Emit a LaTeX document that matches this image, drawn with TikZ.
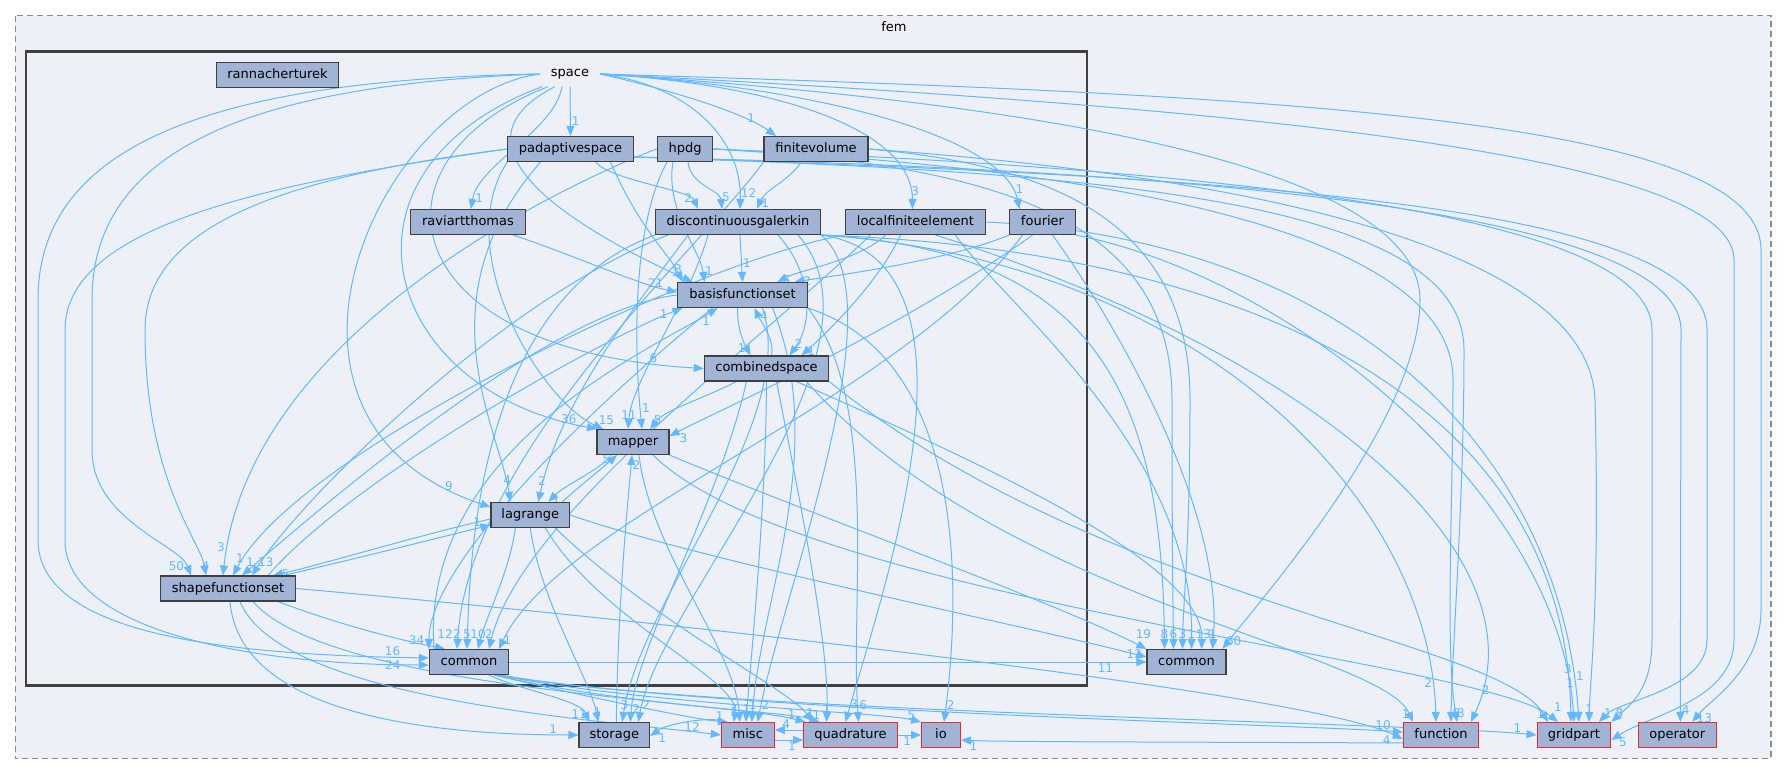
\documentclass[tikz,border=0pt]{standalone}
\usepackage{fontspec}
\setmainfont{DejaVu Sans}
\usetikzlibrary{arrows.meta}
\definecolor{edgec}{HTML}{63B8FF}
\definecolor{nodef}{HTML}{A2B4D6}
\definecolor{clbg}{HTML}{EDF0F7}
\definecolor{nodeb}{HTML}{404040}
\definecolor{extb}{HTML}{F0282D}
\definecolor{dashc}{HTML}{8C8C8C}
\pgfdeclarelayer{bg}
\pgfdeclarelayer{edges}
\pgfsetlayers{bg,edges,main}
\tikzset{
  nd/.style={draw=nodeb, fill=nodef, line width=1.1pt, minimum height=25pt, inner sep=0pt,
    font=\fontsize{13}{15}\selectfont, text height=9.6pt, text depth=2.6pt, text=black},
  ext/.style={nd, draw=extb},
  dep/.style={draw=edgec, line width=1pt, -{Triangle[length=10pt,width=8pt]}},
  lbl/.style={text=edgec, font=\fontsize{12}{14}\selectfont, inner sep=1pt},
  toplbl/.style={lbl, pos=1, above=9pt}
}
\begin{document}
\begin{tikzpicture}[x=1pt,y=-1pt]
\useasboundingbox (0,0) rectangle (1789,775);
\begin{pgfonlayer}{bg}
\fill[white] (0,0) rectangle (1789,775);
\draw[fill=clbg, draw=dashc, line width=1.3pt, dash pattern=on 6pt off 4pt] (15.3,15.7) rectangle (1771,758.7);
\draw[fill=clbg, draw=nodeb, line width=2.4pt] (26,51.7) rectangle (1086.7,685.3);
\end{pgfonlayer}
\node[font=\fontsize{13}{15}\selectfont] (femlbl) at (894,27) {fem};
\node[nd,minimum width=121.7] (rt) at (277.5,75) {rannacherturek};
\node[font=\fontsize{13}{15}\selectfont, minimum width=60pt, minimum height=25pt, inner sep=0pt] (sp) at (570,74) {space};
\node[nd,minimum width=125.5] (pa) at (570.5,149) {padaptivespace};
\node[nd,minimum width=55.5] (hp) at (685,149) {hpdg};
\node[nd,minimum width=104] (fv) at (816,149) {finitevolume};
\node[nd,minimum width=115] (ra) at (468,222) {raviartthomas};
\node[nd,minimum width=165] (dg) at (738,222) {discontinuousgalerkin};
\node[nd,minimum width=140.5] (lf) at (915.5,222) {localfiniteelement};
\node[nd,minimum width=66] (fo) at (1042.5,222) {fourier};
\node[nd,minimum width=129.6] (bf) at (742.5,295) {basisfunctionset};
\node[nd,minimum width=124.4] (cs) at (766.5,368.5) {combinedspace};
\node[nd,minimum width=72] (ma) at (633,442) {mapper};
\node[nd,minimum width=78.7] (la) at (530.3,515) {lagrange};
\node[nd,minimum width=134.7] (sf) at (228,588.5) {shapefunctionset};
\node[nd,minimum width=79.4] (sc) at (469,662) {common};
\node[nd,minimum width=79] (fc) at (1186.5,662) {common};
\node[nd,minimum width=70.7] (st) at (614.3,735) {storage};
\node[ext,minimum width=53] (mi) at (747.8,735) {misc};
\node[ext,minimum width=93.6] (qu) at (850.5,735) {quadrature};
\node[ext,minimum width=38.8] (io) at (941,735) {io};
\node[ext,minimum width=75.4] (fn) at (1441,735) {function};
\node[ext,minimum width=73.7] (gp) at (1574,735) {gridpart};
\node[ext,minimum width=78] (op) at (1677.3,735) {operator};

\begin{pgfonlayer}{edges}
% space
\draw[dep] (sp.south) -- (pa.north) node[lbl,pos=.7,right]{1};
\draw[dep] ([xshift=-8]sp.south) .. controls (555,130) and (478,165) .. ([xshift=3]ra.north) node[lbl,pos=.92,right]{1};
\draw[dep] (sp.east) .. controls (650,85) and (740,110) .. ([xshift=-40]fv.north) node[lbl,pos=.85,above left]{1};
\draw[dep] (sp.east) .. controls (690,85) and (742,140) .. ([xshift=2]dg.north) node[lbl,pos=.92,right]{12};
\draw[dep] (sp.east) .. controls (780,85) and (912,130) .. ([xshift=-3]lf.north) node[lbl,pos=.92,right]{3};
\draw[dep] (sp.east) .. controls (830,88) and (1005,140) .. ([xshift=-23]fo.north) node[lbl,pos=.93,above right]{1};
\draw[dep] ([xshift=-15]sp.south) .. controls (430,150) and (600,240) .. ([xshift=-50]bf.north) node[lbl,pos=.95,above]{3};
\draw[dep] ([xshift=-22]sp.south) .. controls (360,160) and (390,350) .. (cs.west) node[lbl,pos=.95,above left]{6};
\draw[dep] ([xshift=-28]sp.south) .. controls (320,170) and (380,390) .. ([xshift=-36]ma.north) node[lbl,pos=.97,above left]{36};
\draw[dep] (sp.west) .. controls (380,95) and (230,420) .. ([yshift=8]la.west) node[lbl,pos=.95,above left]{9};
\draw[dep] (sp.west) .. controls (250,85) and (92,150) .. (92,300) -- (92,450) .. controls (92,520) and (180,545) .. ([xshift=-37]sf.north) node[lbl,pos=.9,left]{50};
\draw[dep] (sp.west) .. controls (200,80) and (38,150) .. (38,300) -- (38,540) .. controls (38,640) and (250,655) .. ([yshift=4]sc.west) node[lbl,pos=.95,above left]{16};
\draw[dep] (sp.east) .. controls (1300,95) and (1761,120) .. (1761,250) -- (1761,610) .. controls (1761,670) and (1710,700) .. ([xshift=15]op.north) node[lbl,pos=.95,right]{13};
\draw[dep] (sp.east) .. controls (1300,110) and (1734,160) .. (1734,260) -- (1734,640) .. controls (1734,700) and (1650,715) .. ([yshift=-5]gp.east) node[lbl,pos=.95,below right]{5};
\draw[dep] (sp.east) .. controls (1000,100) and (1420,160) .. (1420,300) .. controls (1420,420) and (1260,600) .. ([xshift=36]fc.north) node[lbl,pos=1,above right=2pt]{60};
% padaptivespace
\draw[dep] ([xshift=25]pa.south) .. controls (610,180) and (690,190) .. ([xshift=-40]dg.north) node[lbl,pos=.9,above left]{2};
\draw[dep] ([xshift=40]pa.south) .. controls (640,230) and (670,255) .. ([xshift=-60]bf.north) node[lbl,pos=.95,above left]{1};
\draw[dep] (pa.south west) .. controls (450,250) and (540,400) .. ([xshift=-30]ma.north) node[lbl,pos=.97,above right]{15};
\draw[dep] (pa.west) .. controls (300,175) and (145,220) .. (145,330) .. controls (145,480) and (200,540) .. ([xshift=-22]sf.north) node[lbl,pos=.97,above]{4};
\draw[dep] (pa.west) .. controls (250,185) and (65,230) .. (65,330) -- (65,540) .. controls (65,630) and (250,665) .. ([yshift=-3]sc.west) node[lbl,pos=.95,left]{24};
\draw[dep] ([xshift=-30]pa.south) .. controls (420,300) and (500,430) .. ([xshift=-20]la.north) node[lbl,pos=.93,above]{4};
\draw[dep] ([yshift=-8]pa.east) .. controls (1100,168) and (1681,200) .. (1681,330) -- ([xshift=3]op.north) node[lbl,pos=.97,right]{4};
\draw[dep] ([yshift=-8]pa.east) .. controls (1100,172) and (1464,200) .. (1464,350) .. controls (1464,500) and (1452,650) .. ([xshift=10]fn.north) node[lbl,pos=.96,right]{8};
\draw[dep] ([yshift=-8]pa.east) .. controls (1200,176) and (1707,200) .. (1707,330) -- (1707,640) .. controls (1707,690) and (1620,700) .. ([xshift=25]gp.north) node[lbl,pos=.95,above right]{1};
% hpdg
\draw[dep] ([xshift=3]hp.south) .. controls (690,185) and (720,190) .. ([xshift=-16]dg.north) node[lbl,pos=.9,above right]{5};
\draw[dep] ([xshift=-12]hp.south) .. controls (665,210) and (700,250) .. ([xshift=-38]bf.north) node[lbl,pos=.95,above right]{1};
\draw[dep] ([xshift=-18]hp.south) .. controls (630,230) and (635,360) .. ([xshift=9]ma.north) node[lbl,pos=.93,above right]{1};
\draw[dep] (hp.east) .. controls (1000,165) and (1172,220) .. (1172,400) .. controls (1172,550) and (1173,600) .. ([xshift=-13]fc.north) node[toplbl]{6};
\draw[dep] (hp.east) .. controls (1200,170) and (1652,210) .. (1652,330) -- (1652,640) .. controls (1652,690) and (1630,705) .. (gp.north east) node[lbl,pos=.95,above right]{8};
\draw[dep] (hp.east) .. controls (1100,168) and (1453,230) .. (1453,380) .. controls (1453,500) and (1445,650) .. ([xshift=16]fn.north) node[lbl,pos=.96,right]{3};
\draw[dep] (hp.west) .. controls (600,170) and (250,320) .. ([xshift=-5]sf.north) node[lbl,pos=.97,above left]{3};
% finitevolume
\draw[dep] ([xshift=-15]fv.south) .. controls (790,180) and (765,190) .. ([xshift=19]dg.north) node[lbl,pos=.9,right]{1};
\draw[dep] (fv.east) .. controls (1050,165) and (1190,220) .. (1190,400) .. controls (1190,550) and (1183,600) .. ([xshift=-4]fc.north) node[toplbl]{3};
\draw[dep] (fv.east) .. controls (1300,180) and (1590,260) .. (1595,400) .. controls (1600,600) and (1590,680) .. ([xshift=15]gp.north) node[lbl,pos=.95,above]{1};
\draw[dep] (fv.south west) .. controls (700,250) and (470,450) .. ([xshift=-12]sc.north) node[toplbl]{2};
% raviartthomas
\draw[dep] ([xshift=45]ra.south) .. controls (560,250) and (640,285) .. ([yshift=3]bf.west) node[lbl,pos=.9,above left]{21};
% discontinuousgalerkin
\draw[dep] ([xshift=2]dg.south) -- (bf.north) node[lbl,pos=.6,right]{1};
\draw[dep] ([xshift=40]dg.south) .. controls (810,270) and (815,320) .. ([xshift=23]cs.north) node[lbl,pos=.95,above right]{2};
\draw[dep] ([xshift=-30]dg.south) .. controls (690,300) and (632,380) .. ([xshift=-5]ma.north) node[lbl,pos=.95,above]{11};
\draw[dep] ([xshift=-50]dg.south) .. controls (640,300) and (560,400) .. ([xshift=8]la.north) node[lbl,pos=.95,above]{2};
\draw[dep] ([xshift=-70]dg.south) .. controls (500,300) and (300,500) .. ([xshift=24]sf.north) node[lbl,pos=.97,above right]{13};
\draw[dep] (dg.south west) .. controls (480,300) and (470,550) .. ([xshift=-2]sc.north) node[toplbl]{5};
\draw[dep] ([xshift=60]dg.south) .. controls (900,350) and (660,600) .. ([xshift=24]st.north) node[lbl,pos=.97,above right]{2};
\draw[dep] (dg.south east) .. controls (900,300) and (780,600) .. ([xshift=10]mi.north) node[lbl,pos=.97,above right]{2};
\draw[dep] (dg.south east) .. controls (1000,260) and (880,600) .. ([xshift=-5]qu.north) node[lbl,pos=.97,above right]{3};
\draw[dep] (dg.south east) .. controls (1100,250) and (1162,400) .. ([xshift=-22]fc.north) node[toplbl]{8};
\draw[dep] (dg.south east) .. controls (1200,260) and (1430,500) .. ([xshift=-5]fn.north) node[lbl,pos=.95,above left]{2};
\draw[dep] (dg.south east) .. controls (1250,250) and (1565,400) .. ([xshift=-3]gp.north) node[lbl,pos=.95,above]{3};
% localfiniteelement
\draw[dep] ([xshift=-30]lf.south) .. controls (860,260) and (800,270) .. ([xshift=35]bf.north) node[lbl,pos=.95,right]{6};
\draw[dep] ([xshift=-15]lf.south) .. controls (880,280) and (830,330) .. ([xshift=35]cs.north) node[lbl,pos=.95,right]{1};
\draw[dep] (lf.south west) .. controls (700,260) and (300,450) .. ([xshift=5]sf.north) node[lbl,pos=.97,above]{1};
\draw[dep] ([xshift=40]lf.south) .. controls (1000,300) and (1195,450) .. ([xshift=5]fc.north) node[toplbl]{1};
\draw[dep] (lf.east) .. controls (1350,240) and (1560,450) .. ([xshift=5]gp.north) node[lbl,pos=.95,above right]{1};
\draw[dep] ([xshift=20]lf.south) .. controls (1300,350) and (1550,550) .. ([xshift=30]fn.north) node[lbl,pos=.95,above right]{2};
\draw[dep] ([xshift=-45]lf.south) .. controls (750,350) and (520,520) .. ([xshift=20]sc.north) node[toplbl]{2};
% fourier
\draw[dep] (fo.south west) .. controls (950,260) and (840,275) .. ([xshift=52]bf.north) node[lbl,pos=.95,right]{2};
\draw[dep] ([xshift=-10]fo.south) .. controls (900,330) and (720,410) .. ([yshift=6]ma.east) node[lbl,pos=.95,below right]{3};
\draw[dep] ([xshift=10]fo.south) .. controls (1100,300) and (1225,500) .. ([xshift=26]fc.north) node[lbl,pos=1,above=9pt]{1};
\draw[dep] (fo.south east) .. controls (1300,280) and (1560,500) .. (gp.north) node[lbl,pos=.95,above]{1};
\draw[dep] ([xshift=-20]fo.south) .. controls (900,400) and (560,520) .. ([xshift=30]sc.north) node[lbl,pos=1,above right=3pt]{1};
% basisfunctionset
\draw[dep] ([xshift=-5]bf.south) .. controls (737,330) and (745,345) .. ([xshift=-16]cs.north) node[lbl,pos=.8,left]{1};
\draw[dep] ([xshift=5]cs.north) .. controls (775,340) and (760,320) .. ([xshift=12]bf.south) node[lbl,pos=.8,right]{4};
\draw[dep] (bf.west) .. controls (550,310) and (330,500) .. ([xshift=14]sf.north) node[lbl,pos=.97,above]{1};
\draw[dep] ([xshift=-30]bf.south) .. controls (600,400) and (430,560) .. (sc.north west) node[lbl,pos=1,above left=3pt]{34};
\draw[dep] ([xshift=20]bf.south) .. controls (800,420) and (640,600) .. ([xshift=8]st.north) node[lbl,pos=.97,above]{3};
\draw[dep] ([xshift=30]bf.south) .. controls (830,450) and (760,600) .. ([xshift=4]mi.north) node[lbl,pos=.97,above]{1};
\draw[dep] (bf.south east) .. controls (880,400) and (850,600) .. ([xshift=8]qu.north) node[lbl,pos=.97,above right]{6};
\draw[dep] (bf.south east) .. controls (970,360) and (960,600) .. ([xshift=3]io.north) node[lbl,pos=.97,above right]{2};
% combinedspace
\draw[dep] ([xshift=-30]cs.south) .. controls (700,400) and (665,410) .. ([xshift=17]ma.north) node[lbl,pos=.95,above right]{5};
\draw[dep] ([xshift=-20]cs.south) .. controls (720,500) and (635,650) .. ([xshift=16]st.north) node[lbl,pos=.97,above right]{2};
\draw[dep] (cs.south) .. controls (766,500) and (752,650) .. ([xshift=-2]mi.north) node[lbl,pos=.97,above]{1};
\draw[dep] ([xshift=10]cs.south) .. controls (800,500) and (830,650) .. ([xshift=-24]qu.north) node[lbl,pos=.97,above]{1};
\draw[dep] ([xshift=30]cs.south) .. controls (950,450) and (1205,560) .. ([xshift=15]fc.north) node[lbl,pos=1,above=9pt,xshift=2pt]{13};
\draw[dep] ([xshift=40]cs.south) .. controls (1000,600) and (1380,650) .. ([xshift=-28]fn.north) node[lbl,pos=1,above left=2pt]{1};
\draw[dep] (cs.south east) .. controls (1100,600) and (1500,640) .. ([xshift=-26]gp.north) node[lbl,pos=1,above left=2pt]{1};
% mapper
\draw[dep] ([xshift=-22]ma.south) .. controls (600,470) and (565,485) .. ([xshift=18]la.north) node[lbl,pos=.95,right]{1};
\draw[dep] ([xshift=32]la.north) .. controls (575,490) and (600,470) .. ([xshift=-16]ma.south) node[lbl,pos=.9,left]{5};
\draw[dep] ([xshift=2]st.north) .. controls (618,600) and (628,500) .. ([xshift=-1]ma.south) node[lbl,pos=.93,right]{2};
\draw[dep] ([xshift=6]ma.south) .. controls (650,550) and (735,650) .. ([xshift=-8]mi.north) node[lbl,pos=.97,above left]{7};
\draw[dep] (ma.south east) .. controls (800,510) and (1050,600) .. (fc.north west) node[lbl,pos=1,above=9pt,xshift=-3pt]{19};
\draw[dep] ([xshift=20]ma.south) .. controls (800,600) and (1480,660) .. ([xshift=-16]gp.north) node[lbl,pos=1,above=9pt]{1};
% lagrange
\draw[dep] ([yshift=-4]la.west) .. controls (420,535) and (320,565) .. ([xshift=45]sf.north) node[lbl,pos=.95,right]{5};
\draw[dep] ([xshift=55]sf.north) .. controls (330,565) and (430,540) .. ([yshift=-10]la.west) node[lbl,pos=.93,above]{1};
\draw[dep] ([xshift=-15]la.south) .. controls (510,570) and (485,620) .. ([xshift=9]sc.north) node[toplbl]{10};
\draw[dep] (la.south) .. controls (540,600) and (590,680) .. ([xshift=-16]st.north) node[lbl,pos=.97,above]{1};
\draw[dep] ([xshift=15]la.south) .. controls (600,620) and (740,680) .. ([xshift=-14]mi.north) node[lbl,pos=.97,above]{1};
\draw[dep] ([xshift=25]la.south) .. controls (650,620) and (790,690) .. ([xshift=-38]qu.north) node[lbl,pos=.97,above]{1};
\draw[dep] (la.east) .. controls (700,560) and (1000,620) .. ([yshift=5]fc.west) node[lbl,pos=1,left=3pt,yshift=3pt]{12};
% shapefunctionset
\draw[dep] ([xshift=50]sf.south) .. controls (340,625) and (400,640) .. ([xshift=-24]sc.north) node[toplbl]{12};
\draw[dep] ([xshift=2]sf.south) .. controls (240,720) and (450,735) .. (st.west) node[lbl,pos=.95,above left]{1};
\draw[dep] ([xshift=12]sf.south) .. controls (280,700) and (600,720) .. (mi.west) node[lbl,pos=.95,above left]{12};
\draw[dep] ([xshift=25]sf.south) .. controls (330,690) and (720,700) .. ([xshift=-45]qu.north) node[lbl,pos=.97,above left]{1};
\draw[dep] (sf.east) .. controls (600,615) and (1300,690) .. ([yshift=-4]fn.west) node[lbl,pos=.97,below left]{4};
\draw[dep] ([xshift=40]sf.north) .. controls (350,480) and (600,340) .. ([xshift=-60]bf.south) node[lbl,pos=.95,left]{1};
\draw[dep] ([xshift=-35]sc.north) .. controls (420,450) and (650,350) .. ([xshift=-25]bf.south) node[lbl,pos=.95,below]{1};
% space/common
\draw[dep] (sc.east) -- (fc.west) node[lbl,pos=.95,below left]{11};
\draw[dep] ([xshift=20]sc.south) .. controls (520,690) and (580,700) .. ([xshift=-25]st.north) node[lbl,pos=.97,above left]{11};
\draw[dep] ([xshift=25]sc.south) .. controls (600,700) and (700,720) .. ([xshift=-20]mi.north) node[lbl,pos=.97,above left]{1};
\draw[dep] ([xshift=26]sc.south) .. controls (620,705) and (790,712) .. ([xshift=-31]qu.north) node[lbl,pos=.97,above]{1};
\draw[dep] ([xshift=28]sc.south) .. controls (650,705) and (880,712) .. (io.north west) node[lbl,pos=.97,above left]{5};
\draw[dep] ([xshift=30]sc.south) .. controls (700,710) and (1300,725) .. ([yshift=3]fn.west) node[lbl,pos=.97,above left]{10};
\draw[dep] ([xshift=32]sc.south) .. controls (700,712) and (1400,722) .. (gp.west) node[lbl,pos=.97,above left]{1};
% external
\draw[dep] ([yshift=5]qu.west) -- ([yshift=5]mi.east) node[lbl,pos=.6,above]{4};
\draw[dep] ([yshift=-5]mi.east) -- ([yshift=-5]qu.west) node[lbl,pos=.6,below]{1};
\draw[dep] (qu.east) -- (io.west) node[lbl,pos=.4,below]{1};
\draw[dep] (mi.north west) .. controls (720,716) and (670,722) .. ([yshift=-1]st.east) node[lbl,pos=.9,below right]{1};
\draw[dep] ([yshift=-8]fn.west) .. controls (1200,742) and (1000,742) .. ([yshift=-5]io.east) node[lbl,pos=.95,below right]{1};
\end{pgfonlayer}
\end{tikzpicture}
\end{document}
